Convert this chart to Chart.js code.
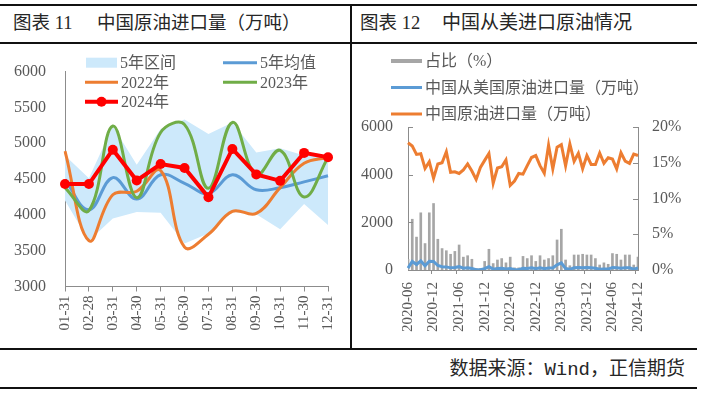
<!DOCTYPE html>
<html>
<head>
<meta charset="utf-8">
<script src="https://cdn.jsdelivr.net/npm/chart.js@4.4.1/dist/chart.umd.min.js"></script>
<style>
    body { margin: 0; width: 703px; height: 395px; background: #fff; position: relative; overflow: hidden;
           font-family: 'Liberation Serif', 'Noto Sans CJK SC', serif; color: #262626; }
    .rule { position: absolute; background: #111; }
    .title { position: absolute; top: 12px; font-size: 18.5px; line-height: 22px; white-space: nowrap; }
    .source { position: absolute; right: 18px; top: 358px; font-size: 19px; line-height: 24px;
              font-family: 'Liberation Mono', 'Noto Sans CJK SC', monospace; white-space: nowrap; }
    canvas { position: absolute; top: 43px; }
</style>
</head>
<body>
<div class="rule" style="left:0;top:4px;width:697px;height:1.5px"></div>
<div class="rule" style="left:0;top:42px;width:697px;height:1.5px"></div>
<div class="rule" style="left:0;top:348px;width:697px;height:1.5px"></div>
<div class="rule" style="left:0;top:387px;width:697px;height:1.5px"></div>
<div class="rule" style="left:350px;top:4px;width:1.5px;height:345px"></div>

<div class="title" style="left:13px">图表 11</div>
<div class="title" style="left:97px">中国原油进口量（万吨）</div>
<div class="title" style="left:360px">图表 12</div>
<div class="title" style="left:442px;font-size:19px">中国从美进口原油情况</div>
<div class="source">数据来源：Wind，正信期货</div>

<canvas id="crude" width="350" height="306" style="left:0"></canvas>
<canvas id="usa" width="351" height="306" style="left:352px"></canvas>

<script>
//================================================================================
// data: chart 11 (seasonal, 万吨)
//================================================================================
var days = ['01-31', '02-28', '03-31', '04-30', '05-31', '06-30',
            '07-31', '08-31', '09-30', '10-31', '11-30', '12-31'];
var range5Low  = [4200, 3640, 3950, 4040, 4030, 3600, 3740, 4040, 4010, 3800, 4150, 3860];
var range5High = [4830, 4510, 5240, 4700, 5200, 5330, 5130, 5290, 4870, 4930, 4830, 4830];
var avg5   = [4490, 4070, 4520, 4220, 4560, 4440, 4300, 4560, 4350, 4380, 4460, 4545];
var y2022  = [4890, 3640, 4280, 4330, 4620, 3550, 3730, 4050, 4020, 4380, 4720, 4800];
var y2023  = [4380, 4060, 5240, 4240, 5150, 5260, 4370, 5290, 4560, 4900, 4250, 4800];
var y2024  = [4430, 4430, 4910, 4480, 4710, 4655, 4245, 4920, 4565, 4475, 4865, 4805];

//================================================================================
// data: chart 12 (monthly 2020-06 .. 2024-12)
//================================================================================
var months = [
    '2020-06', '2020-07', '2020-08', '2020-09', '2020-10', '2020-11', '2020-12',
    '2021-01', '2021-02', '2021-03', '2021-04', '2021-05', '2021-06',
    '2021-07', '2021-08', '2021-09', '2021-10', '2021-11', '2021-12',
    '2022-01', '2022-02', '2022-03', '2022-04', '2022-05', '2022-06',
    '2022-07', '2022-08', '2022-09', '2022-10', '2022-11', '2022-12',
    '2023-01', '2023-02', '2023-03', '2023-04', '2023-05', '2023-06',
    '2023-07', '2023-08', '2023-09', '2023-10', '2023-11', '2023-12',
    '2024-01', '2024-02', '2024-03', '2024-04', '2024-05', '2024-06',
    '2024-07', '2024-08', '2024-09', '2024-10', '2024-11', '2024-12'
];
var shareUS = [
    1.5, 7.1, 4.6, 8.0, 3.7, 8.0, 9.3,
    4.3, 3.0, 2.7, 2.2, 2.6, 3.5, 1.8, 2.0, 1.5, 0.2, 0.2, 1.2,
    2.9, 0.9, 1.4, 1.6, 1.0, 1.8, 0.3, 0.3, 1.9, 1.6, 2.0, 1.2,
    2.0, 1.4, 1.6, 2.0, 4.2, 5.7, 1.4, 0.6, 2.1, 2.1, 2.2, 2.1,
    2.1, 1.6, 0.7, 1.0, 0.8, 2.3, 2.2, 1.4, 2.1, 2.1, 0.7, 1.8
];
var importsUS = [
    80, 360, 230, 380, 180, 370, 360,
    190, 135, 130, 90, 105, 140, 75, 90, 60, 10, 10, 55,
    140, 35, 60, 70, 45, 65, 10, 12, 75, 65, 95, 55,
    90, 55, 85, 85, 215, 300, 60, 30, 95, 105, 95, 100,
    95, 70, 35, 45, 40, 105, 95, 70, 95, 95, 35, 85
];
var importsTotal = [
    5340, 5200, 4850, 4880, 4260, 4540, 3850,
    4450, 4500, 4960, 4100, 4120, 4050, 4200, 4450, 4150, 3800, 4300, 4600,
    4890, 3640, 4280, 4330, 4620, 3550, 3730, 4050, 4020, 4380, 4720, 4800,
    4380, 4060, 5240, 4240, 5150, 5260, 4370, 5290, 4560, 4900, 4250, 4800,
    4430, 4430, 4910, 4480, 4710, 4655, 4245, 4920, 4565, 4475, 4865, 4805
];

//================================================================================
// style
//================================================================================
var AXIS = '#8c8c8c';
var TEXT = '#595959';
var SERIF = "'Liberation Serif', 'Noto Sans CJK SC', serif";
var BLUE = '#5b9bd5', ORANGE = '#ed7d31', GREEN = '#70ad47', RED = '#ff0000';
var BAND = '#cde9fb', GREY = '#a6a6a6';

// plain numbers, no thousands separator
function plain(v) { return String(v); }

// legend drawn over the plot area, like the excel original
var overlayLegend = {
    id: 'overlayLegend',
    afterDraw: function (chart, args, opts) {
        var ctx = chart.ctx;
        ctx.save();
        ctx.font = '16px ' + SERIF;
        ctx.textBaseline = 'middle';
        opts.items.forEach(function (it) {
            if (it.kind === 'rect') {
                ctx.fillStyle = it.color;
                ctx.fillRect(it.x, it.y - it.h / 2, it.w, it.h);
            } else {
                ctx.strokeStyle = it.color;
                ctx.lineWidth = it.lw || 3;
                ctx.beginPath();
                ctx.moveTo(it.x, it.y);
                ctx.lineTo(it.x + it.w, it.y);
                ctx.stroke();
                if (it.kind === 'marker') {
                    ctx.fillStyle = it.color;
                    ctx.beginPath();
                    ctx.arc(it.x + it.w / 2, it.y, 5, 0, Math.PI * 2);
                    ctx.fill();
                }
            }
            ctx.fillStyle = TEXT;
            ctx.fillText(it.text, it.x + it.w + 3, it.y + 1);
        });
        ctx.restore();
    }
};

// small tick marks pointing into the plot (excel "inside" ticks)
var innerTicks = {
    id: 'innerTicks',
    afterDraw: function (chart, args, opts) {
        if (!opts.axes) return;
        var ctx = chart.ctx;
        ctx.save();
        ctx.strokeStyle = AXIS;
        ctx.lineWidth = 1;
        opts.axes.forEach(function (id) {
            var sc = chart.scales[id];
            var left = sc.position === 'left';
            var x0 = left ? chart.chartArea.left : chart.chartArea.right;
            sc.ticks.forEach(function (t) {
                var y = Math.round(sc.getPixelForValue(t.value)) + 0.5;
                ctx.beginPath();
                ctx.moveTo(x0, y);
                ctx.lineTo(left ? x0 + 5 : x0 - 5, y);
                ctx.stroke();
            });
        });
        ctx.restore();
    }
};

Chart.defaults.font.family = SERIF;
Chart.defaults.color = TEXT;
Chart.defaults.animation = false;

//================================================================================
// chart 11
//================================================================================
function lineSet(label, data, color, order) {
    return { type: 'line', label: label, data: data, borderColor: color, backgroundColor: color,
             borderWidth: 3, pointRadius: 0, tension: 0.4, fill: false, order: order };
}

new Chart(document.getElementById('crude'), {
    type: 'line',
    data: {
        labels: days,
        datasets: [
            { label: 'low', data: range5Low, borderWidth: 0, pointRadius: 0, fill: false, order: 6 },
            { label: '5年区间', data: range5High, borderWidth: 0, pointRadius: 0, fill: '-1',
              backgroundColor: BAND, order: 5 },
            lineSet('5年均值', avg5, BLUE, 4),
            lineSet('2022年', y2022, ORANGE, 3),
            lineSet('2023年', y2023, GREEN, 2),
            { label: '2024年', data: y2024, borderColor: RED, backgroundColor: RED, borderWidth: 4,
              pointRadius: 5, pointBorderWidth: 0, tension: 0, fill: false, order: 1 }
        ]
    },
    options: {
        responsive: false,
        layout: { padding: { left: 0, right: 20, top: 19, bottom: 0 } },
        plugins: {
            legend: { display: false },
            tooltip: { enabled: false },
            overlayLegend: { items: [
                { kind: 'rect',   x: 86,  y: 19.7, w: 31, h: 10, color: BAND, text: '5年区间' },
                { kind: 'line',   x: 223, y: 19.7, w: 34, color: BLUE, text: '5年均值' },
                { kind: 'line',   x: 85,  y: 39.3, w: 33, color: ORANGE, text: '2022年' },
                { kind: 'line',   x: 223, y: 39.3, w: 34, color: GREEN, text: '2023年' },
                { kind: 'marker', x: 85,  y: 58.7, w: 33, color: RED, lw: 4, text: '2024年' }
            ] }
        },
        scales: {
            x: {
                offset: false,
                grid: { drawOnChartArea: false, color: AXIS, tickLength: 5 },
                border: { color: AXIS },
                ticks: { autoSkip: false, minRotation: 90, maxRotation: 90, padding: 4,
                         font: { size: 15 } },
                afterFit: function (sc) { sc.height = 62.5; }
            },
            y: {
                min: 3000, max: 6000,
                grid: { display: false, drawTicks: false },
                border: { color: AXIS },
                ticks: { stepSize: 500, padding: 19, font: { size: 16 }, callback: plain },
                afterFit: function (sc) { sc.width = 65; }
            }
        }
    },
    plugins: [overlayLegend]
});

//================================================================================
// chart 12
//================================================================================
new Chart(document.getElementById('usa'), {
    type: 'bar',
    data: {
        labels: months,
        datasets: [
            { type: 'line', label: '中国从美国原油进口量（万吨）', data: importsUS, yAxisID: 'y',
              borderColor: BLUE, borderWidth: 3, pointRadius: 0, tension: 0, order: 1 },
            { type: 'line', label: '中国原油进口量（万吨）', data: importsTotal, yAxisID: 'y',
              borderColor: ORANGE, borderWidth: 3, pointRadius: 0, tension: 0, order: 2 },
            { type: 'bar', label: '占比（%）', data: shareUS, yAxisID: 'y1',
              backgroundColor: GREY, barThickness: 2, order: 3 }
        ]
    },
    options: {
        responsive: false,
        layout: { padding: { left: 0, right: 0, top: 84, bottom: 0 } },
        plugins: {
            legend: { display: false },
            tooltip: { enabled: false },
            innerTicks: { axes: ['y', 'y1'] },
            overlayLegend: { items: [
                { kind: 'rect', x: 39, y: 18,   w: 31, h: 4, color: GREY, text: '占比（%）' },
                { kind: 'line', x: 39, y: 44.5, w: 31, color: BLUE, text: '中国从美国原油进口量（万吨）' },
                { kind: 'line', x: 39, y: 71,   w: 31, color: ORANGE, text: '中国原油进口量（万吨）' }
            ] }
        },
        scales: {
            x: {
                offset: false,
                grid: {
                    drawOnChartArea: false, tickLength: 4,
                    color: function (c) { return c.index % 6 === 0 ? AXIS : 'rgba(0,0,0,0)'; }
                },
                border: { color: AXIS },
                ticks: {
                    autoSkip: false, minRotation: 90, maxRotation: 90, padding: 8,
                    font: { size: 15 },
                    callback: function (v, i) { return i % 6 === 0 ? this.getLabelForValue(v) : ''; }
                },
                afterFit: function (sc) { sc.height = 79; }
            },
            y: {
                position: 'left', min: 0, max: 6000,
                grid: { display: false, drawTicks: false },
                border: { color: AXIS },
                ticks: { stepSize: 2000, padding: 15, font: { size: 16 }, callback: plain },
                afterFit: function (sc) { sc.width = 56; }
            },
            y1: {
                position: 'right', min: 0, max: 20,
                grid: { display: false, drawTicks: false },
                border: { color: AXIS },
                ticks: { stepSize: 5, padding: 14, font: { size: 16 },
                         callback: function (v) { return v + '%'; } },
                afterFit: function (sc) { sc.width = 65; }
            }
        }
    },
    plugins: [overlayLegend, innerTicks]
});
</script>
</body>
</html>
